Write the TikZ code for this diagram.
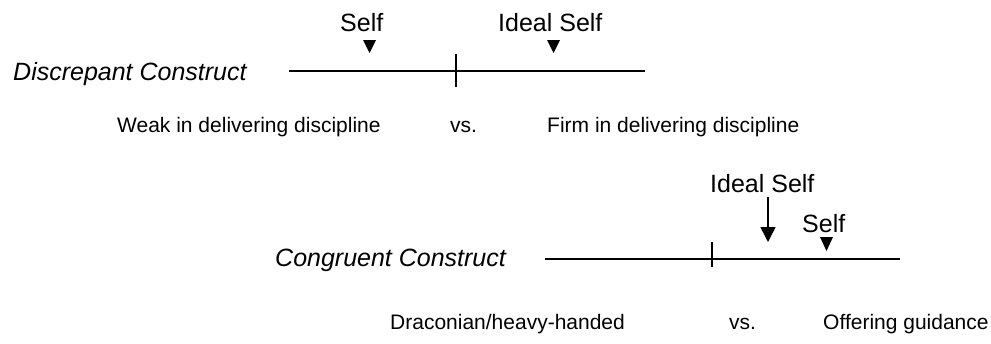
\documentclass[tikz,border=0pt]{standalone}
\usepackage{fontspec}
\setmainfont{Liberation Sans}
\usetikzlibrary{arrows.meta}
\begin{document}
\begin{tikzpicture}[x=1pt,y=-1pt,
  big/.style={inner sep=0pt,font=\fontsize{25}{30}\selectfont},
  bigit/.style={inner sep=0pt,font=\fontsize{25}{30}\selectfont\itshape},
  small/.style={inner sep=0pt,font=\fontsize{21}{25}\selectfont},
  axis/.style={line width=1.6pt},
  marker/.style={fill=black},
  arr/.style={line width=1.6pt,-{Triangle[width=15pt,length=15pt]}}]
\useasboundingbox (0,0) rectangle (991,343);
% ---- Discrepant construct ----
\node[bigit,anchor=base west] (dlabel) at (13,80) {Discrepant Construct};
\coordinate (dL) at (289,71);
\coordinate (dR) at (645,71);
\draw[axis] (dL) -- (dR);
\coordinate (dT1) at (456,54);
\coordinate (dT2) at (456,87);
\draw[axis] (dT1) -- (dT2);
\node[big,anchor=base west] (dself) at (340,31) {Self};
\node[big,anchor=base west] (dideal) at (498,31) {Ideal Self};
\fill[marker] (363,40) -- (376,40) -- (369.5,53) -- cycle;
\fill[marker] (547,40) -- (560,40) -- (553.5,53) -- cycle;
\node[small,anchor=base west] (dweak) at (117,132) {Weak in delivering discipline};
\node[small,anchor=base west] (dvs) at (450,132) {vs.};
\node[small,anchor=base west] (dfirm) at (547,132) {Firm in delivering discipline};
% ---- Congruent construct ----
\node[bigit,anchor=base west] (clabel) at (275,266) {Congruent Construct};
\coordinate (cL) at (545,259);
\coordinate (cR) at (900,259);
\draw[axis] (cL) -- (cR);
\coordinate (cT1) at (712,242);
\coordinate (cT2) at (712,267);
\draw[axis] (cT1) -- (cT2);
\node[big,anchor=base west] (cideal) at (710,192) {Ideal Self};
\coordinate (cA1) at (768,197);
\coordinate (cA2) at (768,242);
\draw[arr] (cA1) -- (cA2);
\node[big,anchor=base west] (cself) at (802,232) {Self};
\fill[marker] (820,237) -- (833,237) -- (826.5,251) -- cycle;
\node[small,anchor=base west] (cdrac) at (390,329) {Draconian/heavy-handed};
\node[small,anchor=base west] (cvs) at (729,329) {vs.};
\node[small,anchor=base west] (coffer) at (823,329) {Offering guidance};
\end{tikzpicture}
\end{document}
